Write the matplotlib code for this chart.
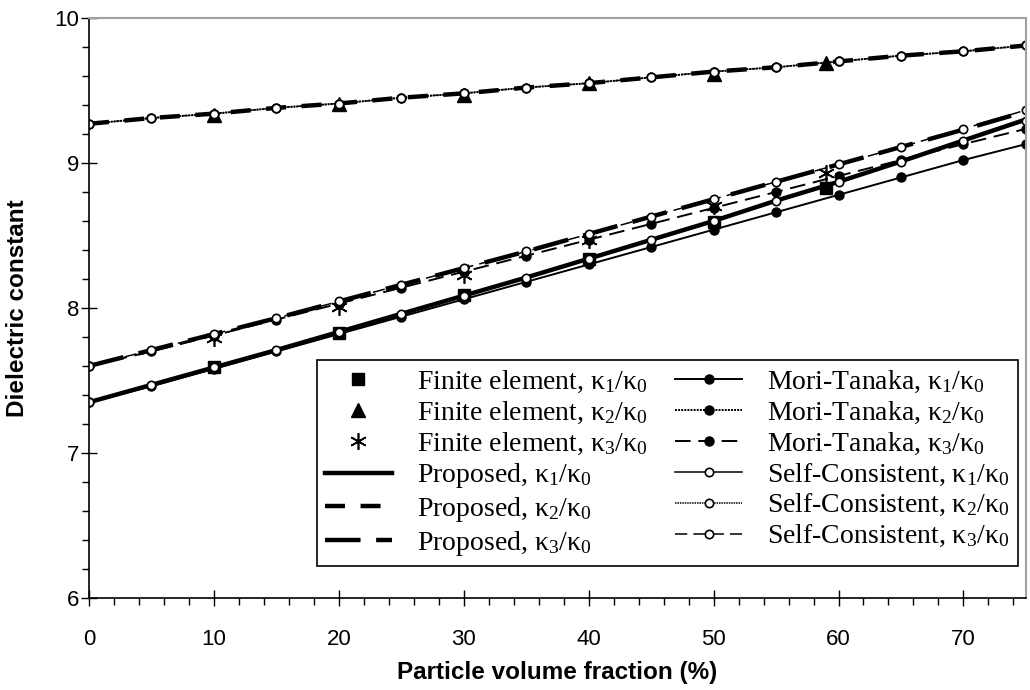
import numpy as np
import matplotlib
matplotlib.use('Agg')
import matplotlib.pyplot as plt
from matplotlib.ticker import MultipleLocator

plt.rcParams['mathtext.fontset'] = 'custom'
plt.rcParams['mathtext.rm'] = 'Liberation Serif'
plt.rcParams['mathtext.it'] = 'Liberation Serif:italic'

# volume fraction (%)
vf = [0, 5, 10, 15, 20, 25, 30, 35, 40, 45, 50, 55, 60, 65, 70, 75]

# proposed model
prop_k1 = [7.35, 7.47, 7.59, 7.71, 7.835, 7.96, 8.085, 8.21, 8.34, 8.47, 8.60, 8.74, 8.87, 9.01, 9.155, 9.30]
prop_k2 = [9.27, 9.31, 9.34, 9.38, 9.41, 9.45, 9.48, 9.52, 9.55, 9.59, 9.63, 9.66, 9.70, 9.74, 9.77, 9.81]
prop_k3 = [7.60, 7.71, 7.82, 7.93, 8.045, 8.16, 8.275, 8.39, 8.51, 8.63, 8.75, 8.87, 8.99, 9.11, 9.23, 9.355]

# Mori-Tanaka
mt_k1 = [7.35, 7.46, 7.58, 7.70, 7.82, 7.94, 8.06, 8.18, 8.30, 8.42, 8.54, 8.66, 8.78, 8.90, 9.02, 9.13]
mt_k2 = [9.27, 9.31, 9.34, 9.38, 9.41, 9.45, 9.48, 9.52, 9.55, 9.59, 9.63, 9.66, 9.70, 9.74, 9.77, 9.81]
mt_k3 = [7.60, 7.70, 7.81, 7.92, 8.03, 8.14, 8.25, 8.36, 8.47, 8.58, 8.69, 8.80, 8.91, 9.02, 9.13, 9.235]

# Self-consistent
sc_k1 = [7.35, 7.47, 7.59, 7.71, 7.835, 7.96, 8.085, 8.21, 8.34, 8.47, 8.60, 8.74, 8.87, 9.01, 9.15, 9.29]
sc_k2 = [9.27, 9.31, 9.34, 9.38, 9.41, 9.45, 9.48, 9.52, 9.55, 9.59, 9.63, 9.66, 9.70, 9.74, 9.77, 9.81]
sc_k3 = [7.60, 7.71, 7.82, 7.93, 8.045, 8.16, 8.275, 8.39, 8.51, 8.63, 8.75, 8.87, 8.99, 9.11, 9.235, 9.365]

# finite element
fe_vf = [10, 20, 30, 40, 50, 59]
fe_k1 = [7.59, 7.83, 8.09, 8.34, 8.59, 8.83]
fe_k2 = [9.33, 9.41, 9.47, 9.55, 9.61, 9.69]
fe_k3 = [7.79, 8.01, 8.23, 8.47, 8.70, 8.93]

kk = ['κ$_1$/κ$_0$', 'κ$_2$/κ$_0$', 'κ$_3$/κ$_0$']

fig = plt.figure(figsize=(10.3, 6.9), dpi=100, facecolor='w')
ax = fig.add_axes([0.0864, 0.1333, 0.9096, 0.8407])

h = []
# FE markers
h += ax.plot(fe_vf, fe_k1, ls='none', marker='s', ms=9, color='k', label='Finite element, ' + kk[0])
h += ax.plot(fe_vf, fe_k2, ls='none', marker='^', ms=10, color='k', label='Finite element, ' + kk[1])
h += ax.plot(fe_vf, fe_k3, ls='none', marker=(6, 2, 0), ms=12, mew=1.2, color='k', label='Finite element, ' + kk[2])

# proposed
h += ax.plot(vf, prop_k1, '-', lw=3.2, color='k', label='Proposed, ' + kk[0])
h += ax.plot(vf, prop_k2, ls=(0, (4.5, 3.5)), lw=3.2, color='k', label='Proposed, ' + kk[1])
h += ax.plot(vf, prop_k3, ls=(0, (8, 3.5)), lw=3.2, color='k', label='Proposed, ' + kk[2])

# Mori-Tanaka
h += ax.plot(vf, mt_k1, '-', lw=1.4, marker='o', ms=6.5, color='k', label='Mori-Tanaka, ' + kk[0])
h += ax.plot(vf, mt_k2, ls=(0, (1, 0.6)), lw=1.4, marker='o', ms=6.5, color='k', label='Mori-Tanaka, ' + kk[1])
h += ax.plot(vf, mt_k3, ls=(0, (8, 4)), lw=1.4, marker='o', ms=6.5, color='k', label='Mori-Tanaka, ' + kk[2])

# Self-consistent
h += ax.plot(vf, sc_k1, '-', lw=1.1, marker='o', ms=6, mfc='w', mec='k', mew=1.2, color='k', label='Self-Consistent, ' + kk[0])
h += ax.plot(vf, sc_k2, ls=(0, (1, 0.6)), lw=1.1, marker='o', ms=6, mfc='w', mec='k', mew=1.2, color='k', label='Self-Consistent, ' + kk[1])
h += ax.plot(vf, sc_k3, ls=(0, (8, 4)), lw=1.1, marker='o', ms=6, mfc='w', mec='k', mew=1.2, color='k', label='Self-Consistent, ' + kk[2])

ax.set_xlim(0, 75)
ax.set_ylim(6, 10)
ax.xaxis.set_major_locator(MultipleLocator(10))
ax.xaxis.set_minor_locator(MultipleLocator(2))
ax.yaxis.set_major_locator(MultipleLocator(1))
ax.yaxis.set_minor_locator(MultipleLocator(0.2))
ax.tick_params(which='major', direction='inout', length=12, width=1, labelsize=16)
ax.tick_params(axis='x', which='major', pad=16)
ax.tick_params(axis='y', which='major', pad=1)
ax.tick_params(which='minor', direction='out', length=5, width=1)
for lab in ax.get_xticklabels() + ax.get_yticklabels():
    lab.set_family('Liberation Sans')

for s in ['top', 'right']:
    ax.spines[s].set_color('#a0a0a0')
    ax.spines[s].set_linewidth(1.5)
for s in ['left', 'bottom']:
    ax.spines[s].set_linewidth(1.2)

ax.set_xlabel('Particle volume fraction (%)', fontsize=17.5, fontweight='bold', family='Liberation Sans', labelpad=8)
ax.set_ylabel('Dielectric constant', fontsize=17.5, fontweight='bold', family='Liberation Sans', labelpad=18)

leg = ax.legend(handles=h, ncol=2, loc='lower right', bbox_to_anchor=(0.9915, 0.055),
                prop={'family': 'Liberation Serif', 'size': 20}, frameon=True, fancybox=False,
                edgecolor='k', framealpha=1, handlelength=2.4, handletextpad=0.9,
                columnspacing=1.0, labelspacing=0.17, borderpad=0.3, numpoints=1,
                borderaxespad=0)
leg.get_frame().set_linewidth(1.2)

fig.savefig('out.png', dpi=100)
